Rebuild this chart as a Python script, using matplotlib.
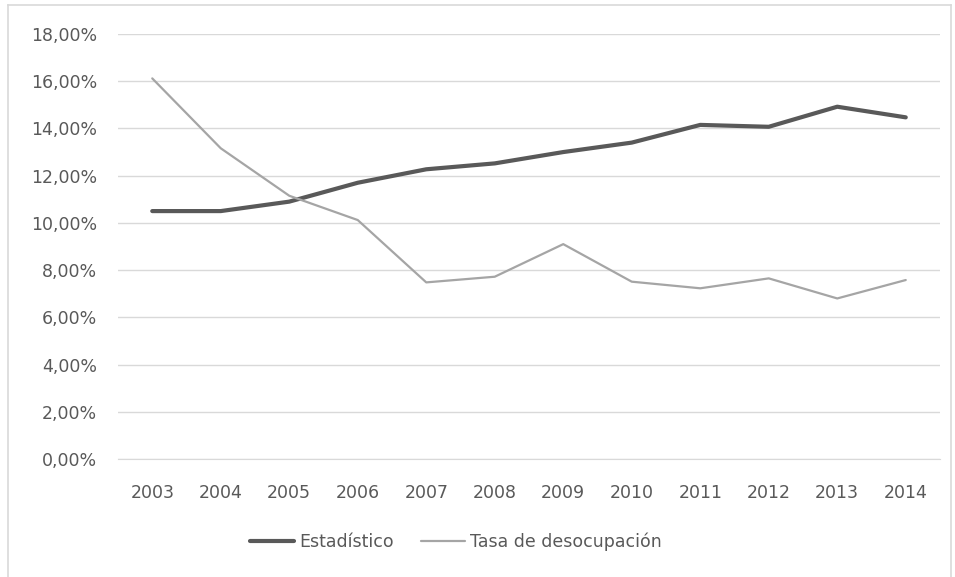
import matplotlib.pyplot as plt
from matplotlib.lines import Line2D
from matplotlib.ticker import FuncFormatter

years = ['2003', '2004', '2005', '2006', '2007', '2008',
         '2009', '2010', '2011', '2012', '2013', '2014']
estadistico = [10.50, 10.50, 10.90, 11.70, 12.27, 12.52,
               13.00, 13.40, 14.15, 14.07, 14.92, 14.47]
tasa_desocupacion = [16.12, 13.16, 11.15, 10.12, 7.48, 7.72,
                     9.10, 7.51, 7.23, 7.65, 6.80, 7.58]
yticks = [0, 2, 4, 6, 8, 10, 12, 14, 16, 18]

text_col = '#595959'
plt.rcParams['font.family'] = ['DejaVu Sans']

fig = plt.figure(figsize=(9.55, 5.77), dpi=100)
W, H = 955, 577
ax = fig.add_axes([118 / W, 1 - 459 / H, (940 - 118) / W, (459 - 34) / H])

x = list(range(len(years)))
ax.plot(x, estadistico, color='#595959', lw=3.0, solid_capstyle='round',
        solid_joinstyle='round', label='Estadístico', zorder=3)
ax.plot(x, tasa_desocupacion, color='#a5a5a5', lw=1.6, solid_capstyle='round',
        solid_joinstyle='round', label='Tasa de desocupación', zorder=3)

ax.set_xlim(-0.5, len(years) - 0.5)
ax.set_ylim(0, 18)
ax.set_yticks(yticks)
ax.yaxis.set_major_formatter(FuncFormatter(lambda v, p: f'{v:.2f}%'.replace('.', ',')))
ax.set_xticks(x)
ax.set_xticklabels(years)

ax.grid(axis='y', color='#d9d9d9', lw=1.0)
ax.set_axisbelow(True)
for s in ax.spines.values():
    s.set_visible(False)
ax.spines['bottom'].set_visible(True)
ax.spines['bottom'].set_color('#d9d9d9')
ax.tick_params(length=0, colors=text_col, labelsize=12.5)
ax.tick_params(axis='y', pad=15)
ax.tick_params(axis='x', pad=18)

leg = fig.legend(loc='center', bbox_to_anchor=(456 / W, 1 - 542 / H), ncol=2,
                 frameon=False, fontsize=12.5, handlelength=2.5,
                 handletextpad=0.3, columnspacing=1.6)
for t in leg.get_texts():
    t.set_color(text_col)

# light frame around the chart area
frame = dict(color='#d9d9d9', lw=1.2, transform=fig.transFigure)
fig.add_artist(Line2D([8 / W, 8 / W], [0, 1 - 5 / H], **frame))
fig.add_artist(Line2D([8 / W, 951 / W], [1 - 5 / H, 1 - 5 / H], **frame))
fig.add_artist(Line2D([951 / W, 951 / W], [0, 1 - 5 / H], **frame))

fig.savefig('out.png', dpi=100)
